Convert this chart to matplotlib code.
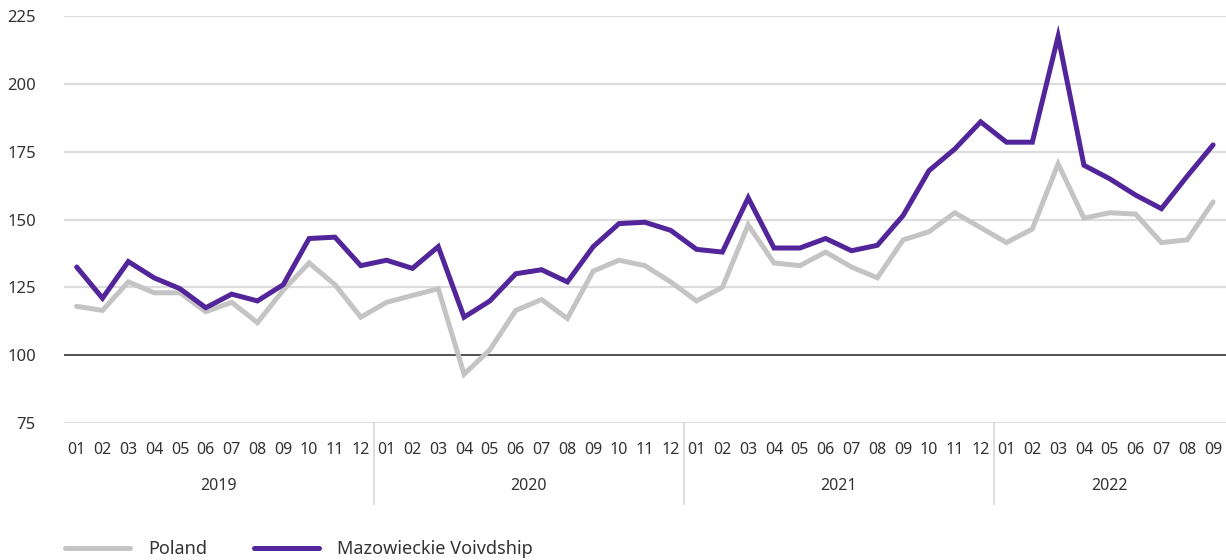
import numpy as np
import matplotlib
matplotlib.use("Agg")
import matplotlib.pyplot as plt

plt.rcParams['font.family'] = ['Noto Sans', 'DejaVu Sans']

# ---------------------------
# data
# ---------------------------
years = ['2019', '2020', '2021', '2022']
months_per_year = [12, 12, 12, 9]
month_labels = [f"{m:02d}" for n in months_per_year for m in range(1, n + 1)]

poland = [118, 116.5, 127, 123, 123, 116, 119.5, 112, 124, 134, 126, 114,
          119.5, 122, 124.5, 93, 102, 116.5, 120.5, 113.5, 131, 135, 133, 127,
          120, 125, 148, 134, 133, 138, 132.5, 128.5, 142.5, 145.5, 152.5, 147,
          141.5, 146.5, 170.5, 150.5, 152.5, 152, 141.5, 142.5, 156.5]

mazowieckie = [132.5, 121, 134.5, 128.5, 124.5, 117.5, 122.5, 120, 126, 143, 143.5, 133,
               135, 132, 140, 114, 120, 130, 131.5, 127, 140, 148.5, 149, 146,
               139, 138, 158, 139.5, 139.5, 143, 138.5, 140.5, 151.5, 168, 176, 186,
               178.5, 178.5, 217.5, 170, 165, 159, 154, 166, 177.5]

y_ticks = [75, 100, 125, 150, 175, 200, 225]

# ---------------------------
# plot
# ---------------------------
fig = plt.figure(figsize=(12.26, 5.6), dpi=100)
ax = fig.add_axes([0.052, 0.2446, 0.948, 0.7268])

x = np.arange(len(poland))
ax.plot(x, poland, color='#c4c4c4', lw=3.6, solid_capstyle='round',
        solid_joinstyle='miter', label='Poland', zorder=3)
ax.plot(x, mazowieckie, color='#52269a', lw=3.6, solid_capstyle='round',
        solid_joinstyle='miter', label='Mazowieckie Voivdship', zorder=4)

ax.set_xlim(-0.5, len(x) - 0.5)
ax.set_ylim(75, 225)
ax.set_yticks(y_ticks)
ax.set_yticklabels([str(t) for t in y_ticks], fontsize=12, color='#333333')
for t in y_ticks:
    ax.axhline(t, color='#333333' if t == 100 else '#dcdcdc',
               lw=1.2 if t == 100 else 1.6, zorder=1)

ax.set_xticks(x)
ax.set_xticklabels(month_labels, fontsize=11.5, color='#333333')
ax.tick_params(axis='both', length=0)
ax.tick_params(axis='x', pad=14)
ax.tick_params(axis='y', pad=20)
for s in ax.spines.values():
    s.set_visible(False)

# year labels and separators
start = 0
for yr, n in zip(years, months_per_year):
    mid = start + (n - 1) / 2
    ax.text(mid, -0.155, yr, transform=ax.get_xaxis_transform(),
            ha='center', va='center', fontsize=11.5, color='#333333')
    if start > 0:
        ax.plot([start - 0.5, start - 0.5], [0, -0.2], transform=ax.get_xaxis_transform(),
                color='#d8d8d8', lw=1.2, clip_on=False)
    start += n

leg = fig.legend(loc='lower left', bbox_to_anchor=(0.04, -0.026), ncol=2, frameon=False,
                 fontsize=13, handlelength=3.6, columnspacing=2.6, handletextpad=1.0)
for t in leg.get_texts():
    t.set_color('#333333')

plt.savefig("out.png", dpi=100)
